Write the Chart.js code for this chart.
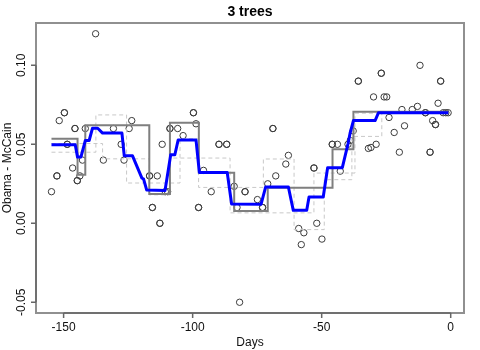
<!DOCTYPE html>
<html>
<head>
<meta charset="utf-8">
<script src="https://cdn.jsdelivr.net/npm/chart.js@4.4.1/dist/chart.umd.min.js"></script>
<style>
  html, body { margin: 0; padding: 0; background: #fff; }
  #wrap { width: 480px; height: 350px; }
</style>
</head>
<body>
<div id="wrap"><canvas id="treesChart" width="480" height="350"></canvas></div>
<script>
// Sondagens: dias antes da eleição e margem Obama - McCain
const pollDays = [
    -154.7, -152.6, -152.6, -151.7, -149.7, -149.7, -148.6, -148.6, -146.5, -145.6, -145.6,
    -144.7, -144.7, -143.7, -142.7, -141.6, -137.6, -134.6, -130.7, -127.7, -126.6, -124.6,
    -123.6, -116.7, -116.7, -115.6, -115.6, -113.7, -112.7, -112.7, -111.8, -110.6, -109.7,
    -108.8, -108.8, -105.8, -103.7, -99.7, -99.7, -98.7, -97.7, -97.7, -95.8, -92.8,
    -89.8, -89.8, -86.8, -86.8, -83.9, -82.8, -81.8, -79.7, -79.7, -74.9, -72.9, -72.9,
    -70.9, -68.9, -68.9, -67.8, -63.9, -62.9, -58.9, -57.9, -56.9, -53.0, -53.0, -51.9,
    -49.9, -45.9, -45.9, -43.9, -42.8, -39.8, -38.9, -37.8, -35.8, -35.8, -31.9, -30.9,
    -29.9, -28.9, -26.9, -26.9, -25.8, -24.8, -23.9, -21.9, -19.9, -18.9, -17.9, -14.9,
    -12.9, -11.9, -9.8, -9.8, -8.0, -8.0, -7.0, -5.9, -5.9, -4.9, -3.9, -3.9, -2.9, -1.9, -1.0
];
const pollMargin = [
    0.020, 0.030, 0.030, 0.065, 0.070, 0.070, 0.050, 0.050, 0.035, 0.060, 0.060,
    0.027, 0.027, 0.030, 0.040, 0.060, 0.120, 0.040, 0.060, 0.050, 0.040, 0.060,
    0.065, 0.030, 0.030, 0.010, 0.010, 0.030, 0.000, 0.000, 0.050, 0.020, 0.020,
    0.060, 0.060, 0.060, 0.0555, 0.070, 0.070, 0.063, 0.010, 0.010, 0.0335, 0.020,
    0.050, 0.050, 0.050, 0.050, 0.0234, 0.010, -0.050, 0.020, 0.020, 0.015, 0.010, 0.010,
    0.025, 0.060, 0.060, 0.030, 0.0375, 0.043, -0.0033, -0.0135, -0.006, 0.035, 0.035, 0.000,
    -0.010, 0.050, 0.050, 0.050, 0.033, 0.050, 0.0525, 0.0585, 0.090, 0.090, 0.0474, 0.048,
    0.080, 0.050, 0.095, 0.095, 0.080, 0.080, 0.067, 0.0575, 0.045, 0.072, 0.0617, 0.072,
    0.074, 0.100, 0.070, 0.070, 0.045, 0.045, 0.065, 0.0625, 0.0625, 0.076, 0.090, 0.090, 0.070, 0.070, 0.070
];

// Árvore 1 (cinza, contínua): início de cada degrau e valor
const treeOneDays = [-154.7, -144.6, -141.6, -116.8, -108.8, -97.6, -83.9, -70.9, -45.8, -37.7, -0.9];
const treeOneFit  = [0.0535, 0.0307, 0.0621, 0.0186, 0.0637, 0.0320, 0.0078, 0.0225, 0.0468, 0.0706, 0.0706];

// Árvores 2 e 3 (tracejadas)
const treeTwoDays = [-154.7, -137.5, -125.6, -104.9, -97.7, -72.6, -60.7, -49.0, -38.3, -26.7, -0.9];
const treeTwoFit  = [0.0450, 0.0686, 0.0255, 0.0535, 0.0227, 0.0407, -0.0040, 0.0276, 0.0550, 0.0697, 0.0697];

const treeThreeDays = [-154.7, -134.9, -116.8, -108.8, -85.5, -53.0, -37.1, -0.9];
const treeThreeFit  = [0.0505, 0.0408, 0.0180, 0.0413, 0.0066, 0.0318, 0.0697, 0.0697];

// Média das árvores (azul)
const meanDays = [
    -154.7, -145.5, -144.6, -143.3, -141.6, -140.1, -138.8, -136.8, -134.9, -127.4, -126.5,
    -123.3, -119.7, -119.0, -117.8, -110.7, -108.5, -106.9, -105.6, -98.7, -97.4, -86.6,
    -84.9, -73.5, -71.7, -62.9, -61.0, -55.8, -54.9, -49.4, -47.7, -42.0, -39.8, -39.0,
    -37.7, -29.3, -28.0, -0.9
];
const meanFit = [
    0.0497, 0.0497, 0.0419, 0.0419, 0.0524, 0.0524, 0.0602, 0.0602, 0.0571, 0.0571, 0.0427,
    0.0427, 0.0287, 0.0280, 0.0210, 0.0208, 0.0434, 0.0434, 0.0528, 0.0528, 0.0322, 0.0322,
    0.0122, 0.0120, 0.0230, 0.0230, 0.0082, 0.0082, 0.0167, 0.0167, 0.0352, 0.0352, 0.0503, 0.0570,
    0.0650, 0.0650, 0.0700, 0.0700
];

// Eixos
const xTicks = [-150, -100, -50, 0];
const yTicks = [-0.05, 0, 0.05, 0.10];
const yTickLabels = ['-0.05', '0.00', '0.05', '0.10'];
const xRange = [-160.7, 5.15];
const yRange = [-0.0568, 0.1268];

const FONT = '"Liberation Sans", Arial, Helvetica, sans-serif';

function toPoints(xs, ys) {
    return xs.map((x, i) => ({ x: x, y: ys[i] }));
}

// Desenha caixa, eixos e textos no estilo do R
const rStyleAxes = {
    id: 'rStyleAxes',
    afterDraw(chart) {
        const ctx = chart.ctx;
        const area = chart.chartArea;
        const xs = chart.scales.x;
        const ys = chart.scales.y;

        ctx.save();
        // caixa
        ctx.strokeStyle = '#909090';
        ctx.lineWidth = 2;
        ctx.strokeRect(area.left, area.top, area.right - area.left, area.bottom - area.top);

        ctx.strokeStyle = '#666';
        ctx.lineWidth = 1.5;
        ctx.fillStyle = '#111';
        ctx.font = '12px ' + FONT;

        // eixo x
        const x0 = xs.getPixelForValue(xTicks[0]);
        const x1 = xs.getPixelForValue(xTicks[xTicks.length - 1]);
        ctx.beginPath();
        ctx.moveTo(x0, area.bottom);
        ctx.lineTo(x1, area.bottom);
        xTicks.forEach(t => {
            const px = xs.getPixelForValue(t);
            ctx.moveTo(px, area.bottom);
            ctx.lineTo(px, area.bottom + 5);
        });
        ctx.stroke();
        ctx.textAlign = 'center';
        ctx.textBaseline = 'middle';
        xTicks.forEach(t => {
            ctx.fillText(String(t), xs.getPixelForValue(t), 328);
        });
        ctx.fillText('Days', (area.left + area.right) / 2, 343);

        // eixo y
        const y0 = ys.getPixelForValue(yTicks[0]);
        const y1 = ys.getPixelForValue(yTicks[yTicks.length - 1]);
        ctx.beginPath();
        ctx.moveTo(area.left, y0);
        ctx.lineTo(area.left, y1);
        yTicks.forEach(t => {
            const py = ys.getPixelForValue(t);
            ctx.moveTo(area.left, py);
            ctx.lineTo(area.left - 5, py);
        });
        ctx.stroke();
        yTicks.forEach((t, i) => {
            ctx.save();
            ctx.translate(21.5, ys.getPixelForValue(t));
            ctx.rotate(-Math.PI / 2);
            ctx.fillText(yTickLabels[i], 0, 0);
            ctx.restore();
        });
        ctx.save();
        ctx.translate(7.5, (area.top + area.bottom) / 2);
        ctx.rotate(-Math.PI / 2);
        ctx.fillText('Obama - McCain', 0, 0);
        ctx.restore();

        // título
        ctx.font = 'bold 14px ' + FONT;
        ctx.fillStyle = '#000';
        ctx.fillText('3 trees', (area.left + area.right) / 2, 12);
        ctx.restore();
    }
};

function initChart() {
    const ctx = document.getElementById('treesChart').getContext('2d');

    new Chart(ctx, {
        type: 'scatter',
        data: {
            datasets: [
                {
                    type: 'line',
                    data: toPoints(meanDays, meanFit),
                    borderColor: '#0000ff',
                    borderWidth: 3,
                    pointRadius: 0,
                    tension: 0,
                    borderJoinStyle: 'round',
                    order: 0
                },
                {
                    type: 'line',
                    data: toPoints(treeOneDays, treeOneFit),
                    borderColor: '#7f7f7f',
                    borderWidth: 2,
                    pointRadius: 0,
                    stepped: 'before',
                    order: 1
                },
                {
                    type: 'line',
                    data: toPoints(treeTwoDays, treeTwoFit),
                    borderColor: '#c8c8c8',
                    borderWidth: 1,
                    borderDash: [4, 3],
                    pointRadius: 0,
                    stepped: 'before',
                    order: 2
                },
                {
                    type: 'line',
                    data: toPoints(treeThreeDays, treeThreeFit),
                    borderColor: '#c8c8c8',
                    borderWidth: 1,
                    borderDash: [4, 3],
                    pointRadius: 0,
                    stepped: 'before',
                    order: 3
                },
                {
                    data: toPoints(pollDays, pollMargin),
                    pointStyle: 'circle',
                    pointRadius: 3.2,
                    borderColor: '#3c3c3c',
                    backgroundColor: 'rgba(0,0,0,0)',
                    borderWidth: 1,
                    order: 4
                }
            ]
        },
        options: {
            responsive: false,
            animation: false,
            layout: { padding: { left: 36, right: 16, top: 23, bottom: 37 } },
            plugins: {
                legend: { display: false },
                tooltip: { enabled: false }
            },
            scales: {
                x: { type: 'linear', min: xRange[0], max: xRange[1], display: false },
                y: { type: 'linear', min: yRange[0], max: yRange[1], display: false }
            }
        },
        plugins: [rStyleAxes]
    });
}

document.addEventListener('DOMContentLoaded', initChart);
</script>
</body>
</html>
